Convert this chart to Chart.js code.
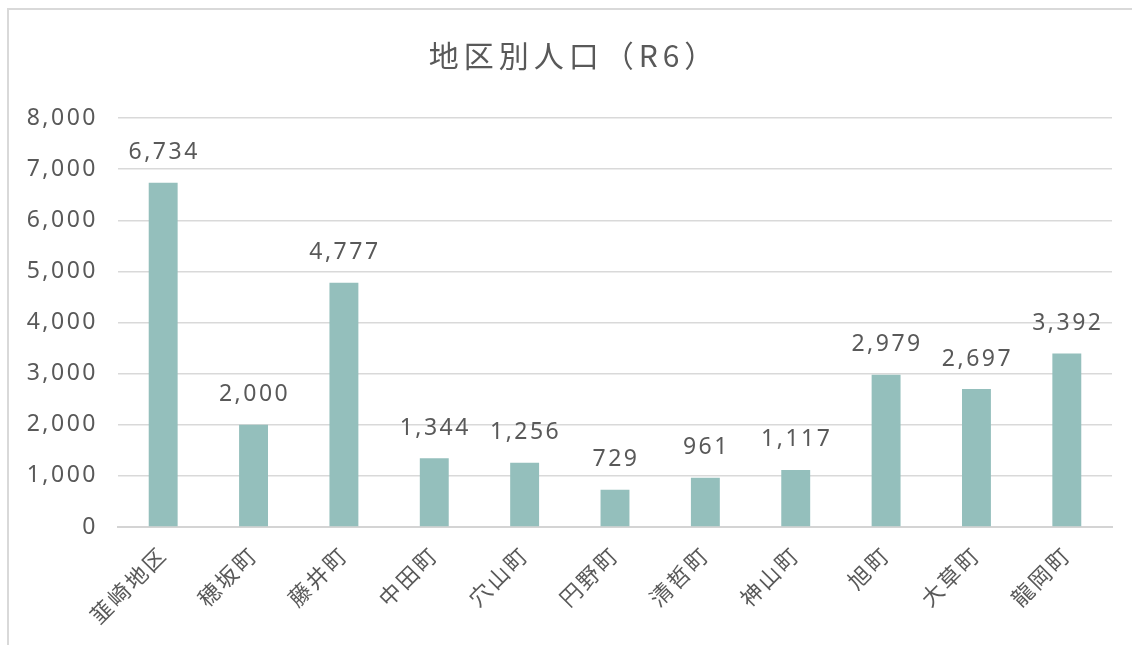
<!DOCTYPE html>
<html><head><meta charset="utf-8">
<script src="https://cdn.jsdelivr.net/npm/chart.js@4/dist/chart.umd.min.js"></script>
<style>
html,body{margin:0;padding:0;background:#fff;}
#wrap{position:relative;width:1132px;height:645px;overflow:hidden;}
#frame{position:absolute;left:7px;top:8px;width:1200px;height:700px;border-top:2px solid #d9d9d9;border-left:2px solid #d9d9d9;}
canvas{position:absolute;left:0;top:0;}
</style></head>
<body><div id="wrap"><div id="frame"></div><canvas id="c" width="1132" height="645"></canvas></div>
<script>
const categories = ["韮崎地区","穂坂町","藤井町","中田町","穴山町","円野町","清哲町","神山町","旭町","大草町","龍岡町"];
const population = [6734,2000,4777,1344,1256,729,961,1117,2979,2697,3392];
const yTicks = [0,1000,2000,3000,4000,5000,6000,7000,8000];
const titleText = "地区別人口（R6）";

const textColor = "#595959";
const fontFam = "'Noto Sans','Noto Sans CJK JP',sans-serif";
const cjkFam = "'Noto Sans CJK JP','Noto Sans',sans-serif";
const fmt = v => v.toLocaleString('en-US');

const spacingPlugin = {
  id: 'spacing',
  beforeInit(chart) { chart.ctx.letterSpacing = '2.5px'; },
  beforeUpdate(chart) { chart.ctx.letterSpacing = '2.5px'; },
  beforeDraw(chart) { chart.ctx.letterSpacing = '2.5px'; }
};

const labelPlugin = {
  id: 'barLabels',
  afterDatasetsDraw(chart) {
    const ctx = chart.ctx;
    const meta = chart.getDatasetMeta(0);
    ctx.save();
    ctx.letterSpacing = '2.5px';
    ctx.fillStyle = textColor;
    ctx.font = "23px " + fontFam;
    ctx.textAlign = 'center';
    ctx.textBaseline = 'middle';
    meta.data.forEach((el, i) => {
      ctx.fillText(fmt(chart.data.datasets[0].data[i]), el.x + 1, el.y - 30);
    });
    ctx.restore();
  },
  afterDraw(chart) {
    const ctx = chart.ctx;
    ctx.save();
    ctx.letterSpacing = '5px';
    ctx.fillStyle = textColor;
    ctx.font = "30px " + cjkFam;
    ctx.textAlign = 'center';
    ctx.textBaseline = 'middle';
    ctx.fillText(titleText, 574, 56);
    ctx.restore();
  }
};

new Chart(document.getElementById('c'), {
  type: 'bar',
  data: {
    labels: categories,
    datasets: [{
      data: population,
      backgroundColor: '#94BFBC',
      categoryPercentage: 1,
      barPercentage: 0.32
    }]
  },
  options: {
    responsive: false,
    animation: false,
    layout: { padding: { left: 0, right: 20, top: 0, bottom: 0 } },
    plugins: {
      legend: { display: false },
      tooltip: { enabled: false },
      title: {
        display: true,
        text: titleText,
        color: 'rgba(0,0,0,0)',
        font: { size: 30, family: cjkFam, weight: 'normal' },
        padding: { top: 37, bottom: 45 }
      }
    },
    scales: {
      x: {
        grid: { display: false, drawTicks: false },
        border: { color: '#d4d4d4', width: 2 },
        ticks: {
          color: textColor,
          font: { size: 22, family: cjkFam },
          maxRotation: 45, minRotation: 45,
          padding: 14,
          autoSkip: false
        },
        afterFit(scale) { scale.height = 118; }
      },
      y: {
        min: 0, max: 8000,
        afterBuildTicks(scale) { scale.ticks = yTicks.map(v => ({ value: v })); },
        grid: { color: '#d9d9d9', lineWidth: 1.5, drawTicks: false },
        border: { display: false },
        ticks: {
          color: textColor,
          font: { size: 23, family: fontFam },
          padding: 20,
          callback: v => fmt(v)
        },
        afterFit(scale) { scale.width = 118; }
      }
    }
  },
  plugins: [spacingPlugin, labelPlugin]
});
</script></body></html>
